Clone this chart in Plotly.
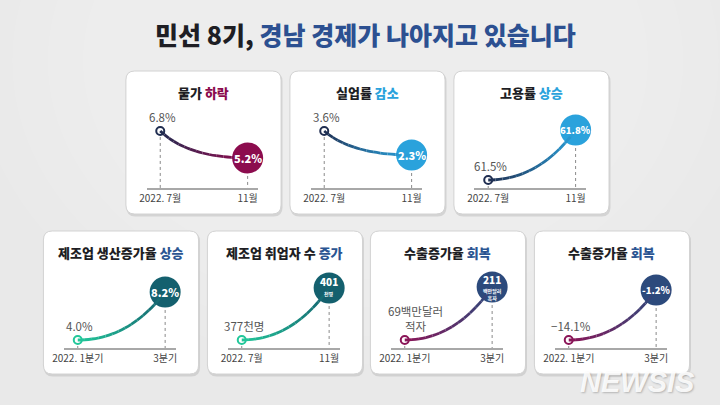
import plotly.graph_objects as go

# ---------------- data ----------------
panel_titles = ["물가", "실업률", "고용률", "제조업 생산증가율", "제조업 취업자 수", "수출증가율", "수출증가율"]
panel_trends = ["하락", "감소", "상승", "상승", "증가", "회복", "회복"]
period_start = ["2022. 7월", "2022. 7월", "2022. 7월", "2022. 1분기", "2022. 7월", "2022. 1분기", "2022. 1분기"]
period_end = ["11월", "11월", "11월", "3분기", "11월", "3분기", "3분기"]
start_values = [6.8, 3.6, 61.5, 4.0, 377, -69, -14.1]
end_values = [5.2, 2.3, 61.8, 8.2, 401, 211, -1.2]
start_labels = ["6.8%", "3.6%", "61.5%", "4.0%", "377천명", "69백만달러<br>적자", "−14.1%"]
end_labels = ["5.2%", "2.3%", "61.8%", "8.2%", "401", "211", "-1.2%"]
end_units = ["", "", "", "", "천명", "백만달러<br>흑자", ""]

# ---------------- styling / layout ----------------
W, H = 720, 405
FONT = "Noto Sans CJK KR"
# per-panel y-axis ranges (each card uses its own scale)
y_ranges = [(3.42, 8.04), (0.51, 4.74), (61.452, 61.92), (3.30, 10.12),
            (373.3, 409.3), (-111.3, 300.8), (-16.16, 3.96)]
x_range = (-0.157, 1.124)
card_left = [116, 283, 450, 32, 199, 365, 532]
card_top = [71, 71, 71, 231, 231, 231, 231]
CARD_W, CARD_H = 158, 143
accent = ["#8c0c4e", "#2aa2dc", "#2aa2dc", "#2b5592", "#2b5592", "#2b5592", "#2b5592"]
c_start = ["#1f2d50", "#1f2d50", "#1f2d50", "#22c79a", "#22c79a", "#8a1457", "#8a1457"]
c_end = ["#8c0c4e", "#2aa2dc", "#2aa2dc", "#14606e", "#14606e", "#2c4a7c", "#2c4a7c"]


def px(x):
    return x / W


def py(y):
    return 1 - y / H


def rr_path(x0, y0, x1, y1, r):
    pts = [("M", x0 + r, y0), ("L", x1 - r, y0), ("Q", x1, y0, x1, y0 + r), ("L", x1, y1 - r),
           ("Q", x1, y1, x1 - r, y1), ("L", x0 + r, y1), ("Q", x0, y1, x0, y1 - r),
           ("L", x0, y0 + r), ("Q", x0, y0, x0 + r, y0)]
    s = ""
    for p in pts:
        cmd = p[0]
        coords = p[1:]
        parts = []
        for i in range(0, len(coords), 2):
            parts.append(f"{px(coords[i]):.5f},{py(coords[i+1]):.5f}")
        s += cmd + " " + " ".join(parts) + " "
    return s + "Z"


def hex_to_rgb(h):
    h = h.lstrip("#")
    return tuple(int(h[i:i + 2], 16) for i in (0, 2, 4))


def mix(a, b, t):
    ra, rb = hex_to_rgb(a), hex_to_rgb(b)
    return "rgb(%d,%d,%d)" % tuple(round(ra[i] + (rb[i] - ra[i]) * t) for i in range(3))


fig = go.Figure()
shapes = []
annotations = []

# background: soft radial brightening toward the top centre
for k in range(8):
    gx, gy = 0.55 - 0.05 * k, 0.75 - 0.07 * k
    shapes.append(dict(type="circle", xref="paper", yref="paper",
                       x0=0.5 - gx, x1=0.5 + gx, y0=0.85 - gy, y1=0.85 + gy,
                       layer="below", fillcolor="rgba(255,255,255,0.05)", line=dict(width=0)))

# title
annotations.append(dict(
    x=0.5, y=py(34), xref="paper", yref="paper", showarrow=False,
    text="민선 8기, <span style='color:#2c5091'>경남 경제가 나아지고 있습니다</span>",
    font=dict(family=FONT, size=25, color="#1e1e24", weight=900), xanchor="center", yanchor="middle"))

for i in range(7):
    L, T = card_left[i], card_top[i]
    R, B = L + CARD_W, T + CARD_H
    # shadow + card
    shapes.append(dict(type="path", xref="paper", yref="paper", layer="below",
                       path=rr_path(L + 0.5, T + 1.5, R + 1.5, B + 2.5, 9),
                       fillcolor="rgba(0,0,0,0.10)", line=dict(width=0)))
    shapes.append(dict(type="path", xref="paper", yref="paper", layer="below",
                       path=rr_path(L, T, R, B, 9),
                       fillcolor="#ffffff", line=dict(color="#d2d2d2", width=1)))
    # card title
    annotations.append(dict(
        x=px(L + CARD_W / 2), y=py(T + 21), xref="paper", yref="paper", showarrow=False,
        text=f"{panel_titles[i]} <span style='color:{accent[i]}'>{panel_trends[i]}</span>",
        font=dict(family=FONT, size=13, color="#1e1e24", weight=900), xanchor="center",
        yanchor="middle"))

    n = i + 1
    xa = "x" if n == 1 else f"x{n}"
    ya = "y" if n == 1 else f"y{n}"
    lo, hi = y_ranges[i]
    fig.layout[f"xaxis{'' if n == 1 else n}"] = dict(
        domain=[px(L + 21), px(L + 135)], range=list(x_range), anchor=ya,
        showline=True, linecolor="#a8a8a8", linewidth=1.5, showgrid=False, zeroline=False,
        tickvals=[0, 1], ticktext=[period_start[i], period_end[i]], ticks="",
        tickfont=dict(family=FONT, size=10, color="#444444"), fixedrange=True)
    fig.layout[f"yaxis{'' if n == 1 else n}"] = dict(
        domain=[py(T + 117), py(T + 39)], range=[lo, hi], anchor=xa, visible=False,
        fixedrange=True)

    y0, y1 = start_values[i], end_values[i]
    # dotted drop lines
    for xv, yv in ((0, y0), (1, y1)):
        fig.add_trace(go.Scatter(x=[xv, xv], y=[yv, lo], mode="lines", xaxis=xa, yaxis=ya,
                                 line=dict(color="#8a8a8a", width=1, dash="dot"),
                                 hoverinfo="skip", showlegend=False, cliponaxis=False))
    # curve: quadratic bezier between the two data points, drawn in gradient pieces
    if y1 < y0:
        P1 = (0.32, y1)
    else:
        P1 = (0.58, y0)
    P0, P2 = (0, y0), (1, y1)
    NSEG = 14
    for k in range(NSEG):
        a, b = k / NSEG, (k + 1) / NSEG

        def B_(t):
            return tuple((1 - t) ** 2 * P0[j] + 2 * (1 - t) * t * P1[j] + t * t * P2[j] for j in range(2))
        sa, sb = B_(a), B_(b)
        q = tuple((1 - a) * (1 - b) * P0[j] + ((1 - a) * b + a * (1 - b)) * P1[j] + a * b * P2[j]
                  for j in range(2))
        shapes.append(dict(type="path", xref=xa, yref=ya, layer="above",
                           path=f"M {sa[0]},{sa[1]} Q {q[0]},{q[1]} {sb[0]},{sb[1]}",
                           line=dict(color=mix(c_start[i], c_end[i], (a + b) / 2), width=2.8)))
    # start marker
    fig.add_trace(go.Scatter(x=[0], y=[y0], mode="markers", xaxis=xa, yaxis=ya,
                             marker=dict(size=8, color="#ffffff", line=dict(color=c_start[i], width=2)),
                             hoverinfo="skip", showlegend=False, cliponaxis=False))
    # end bubble
    fig.add_trace(go.Scatter(x=[1], y=[y1], mode="markers", xaxis=xa, yaxis=ya,
                             marker=dict(size=31, color=c_end[i], line=dict(width=0)),
                             hoverinfo="skip", showlegend=False, cliponaxis=False))
    if end_units[i]:
        nl = end_units[i].count("<br>")
        annotations.append(dict(x=1, y=y1, xref=xa, yref=ya, showarrow=False,
                                text=end_labels[i], yshift=6 + 2 * nl,
                                font=dict(family=FONT, size=10, color="#ffffff", weight=800),
                                xanchor="center", yanchor="middle"))
        annotations.append(dict(x=1, y=y1, xref=xa, yref=ya, showarrow=False,
                                text=end_units[i], yshift=-6 - 1 * nl,
                                font=dict(family=FONT, size=5, color="#ffffff", weight=700),
                                xanchor="center", yanchor="middle"))
    else:
        annotations.append(dict(x=1, y=y1, xref=xa, yref=ya, showarrow=False,
                                text=end_labels[i],
                                font=dict(family=FONT, size=11 if len(end_labels[i]) <= 4 else 9.5,
                                          color="#ffffff", weight=800),
                                xanchor="center", yanchor="middle"))
    # start value label
    two_line = "<br>" in start_labels[i]
    annotations.append(dict(x=0, y=y0, xref=xa, yref=ya, showarrow=False, text=start_labels[i],
                            font=dict(family=FONT, size=11.5, color="#555555"),
                            xanchor="center", yanchor="bottom", xshift=11 if two_line else 2,
                            yshift=4))

# watermark
annotations.append(dict(x=px(637), y=py(382), xref="paper", yref="paper", showarrow=False,
                        text="<i>NEWSIS</i>",
                        font=dict(family="Liberation Sans", size=29, color="rgba(255,255,255,0.9)",
                                  weight=900, shadow="1px 1px 2px rgba(0,0,0,0.25)"),
                        xanchor="center", yanchor="middle"))

fig.update_layout(width=W, height=H, margin=dict(l=0, r=0, t=0, b=0),
                  paper_bgcolor="#e9e9e9", plot_bgcolor="rgba(0,0,0,0)",
                  shapes=shapes, annotations=annotations, showlegend=False)
fig.write_html("out.html", config={"displayModeBar": False},
               post_script="document.body.style.margin='0';document.body.style.padding='0';")
